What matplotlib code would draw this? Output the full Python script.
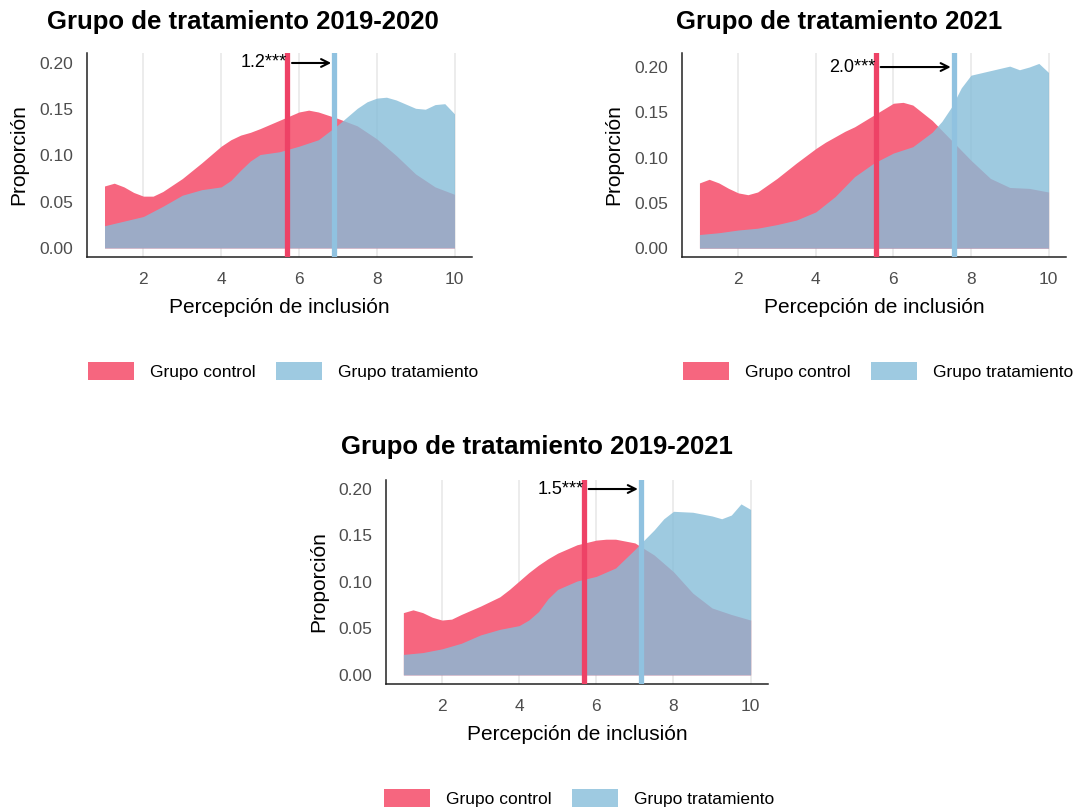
import matplotlib
matplotlib.use("Agg")
import matplotlib.pyplot as plt
from matplotlib.patches import Patch

plt.rcParams["font.family"] = ["Liberation Sans", "DejaVu Sans"]

# Panel titles
titles = ["Grupo de tratamiento 2019-2020",
          "Grupo de tratamiento 2021",
          "Grupo de tratamiento 2019-2021"]

# Density curves (x = perception score, y = proportion)
ctrl_x = [1, 1.25, 1.5, 1.75, 2, 2.25, 2.5, 3, 3.5, 3.75, 4, 4.25, 4.5, 4.75, 5, 5.5, 6, 6.25,
          6.5, 7, 7.5, 8, 8.5, 9, 9.5, 10]

ctrl_y_1920 = [0.067, 0.070, 0.066, 0.060, 0.056, 0.056, 0.061, 0.075, 0.092, 0.101, 0.110,
               0.117, 0.122, 0.125, 0.129, 0.138, 0.147, 0.149, 0.147, 0.140, 0.132, 0.118,
               0.100, 0.080, 0.066, 0.058]
treat_x_1920 = [1, 1.5, 2, 2.5, 3, 3.5, 4, 4.25, 4.5, 4.75, 5, 5.5, 6, 6.5, 7, 7.5, 7.75, 8,
                8.25, 8.5, 9, 9.25, 9.5, 9.75, 10]
treat_y_1920 = [0.024, 0.029, 0.034, 0.045, 0.057, 0.063, 0.066, 0.073, 0.084, 0.094, 0.101,
                0.104, 0.110, 0.117, 0.133, 0.151, 0.158, 0.162, 0.163, 0.160, 0.151, 0.150,
                0.155, 0.156, 0.145]

ctrl_y_21 = [0.072, 0.076, 0.072, 0.066, 0.061, 0.059, 0.062, 0.077, 0.094, 0.102, 0.110,
             0.117, 0.123, 0.129, 0.134, 0.147, 0.160, 0.161, 0.158, 0.141, 0.119, 0.097,
             0.077, 0.067, 0.066, 0.062]
treat_x_21 = [1, 1.5, 2, 2.5, 3, 3.5, 4, 4.5, 5, 5.5, 6, 6.5, 7, 7.25, 7.5, 7.75, 8, 8.5, 9,
              9.25, 9.5, 9.75, 10]
treat_y_21 = [0.015, 0.017, 0.020, 0.022, 0.026, 0.031, 0.040, 0.057, 0.079, 0.094, 0.105,
              0.112, 0.128, 0.140, 0.156, 0.177, 0.191, 0.196, 0.201, 0.197, 0.200, 0.204, 0.194]

ctrl_y_1921 = [0.067, 0.070, 0.067, 0.062, 0.059, 0.060, 0.065, 0.074, 0.084, 0.092, 0.101,
               0.110, 0.118, 0.125, 0.131, 0.140, 0.145, 0.146, 0.146, 0.142, 0.129, 0.111,
               0.088, 0.072, 0.065, 0.059]
treat_x_1921 = [1, 1.5, 2, 2.5, 3, 3.5, 4, 4.25, 4.5, 4.75, 5, 5.5, 6, 6.5, 7, 7.5, 7.75, 8,
                8.5, 9, 9.25, 9.5, 9.75, 10]
treat_y_1921 = [0.022, 0.024, 0.028, 0.034, 0.043, 0.049, 0.053, 0.059, 0.068, 0.082, 0.092,
                0.101, 0.106, 0.115, 0.135, 0.156, 0.168, 0.176, 0.175, 0.171, 0.168, 0.172,
                0.184, 0.178]

# Group means and difference labels
ctrl_means = [5.70, 5.55, 5.68]
treat_means = [6.90, 7.55, 7.15]
diff_labels = ["1.2***", "2.0***", "1.5***"]
y_tops = [0.2108, 0.2155, 0.2097]

RED_FILL = "#F6667F"
BLUE_FILL = "#86BDD9"
RED_LINE = "#EE4266"
BLUE_LINE = "#90C2E0"

W, H = 1082, 807
fig = plt.figure(figsize=(W / 100, H / 100), dpi=100)


def px_axes(left, right, top, bottom):
    return fig.add_axes([left / W, 1 - bottom / H, (right - left) / W, (bottom - top) / H])


def draw_panel(ax, cx, cy, tx, ty, cmean, tmean, label, ytop):
    ax.fill_between(cx, 0, cy, color=RED_FILL, lw=0, zorder=2)
    ax.fill_between(tx, 0, ty, color=BLUE_FILL, alpha=0.8, lw=0, zorder=3)
    ax.axvline(cmean, color=RED_LINE, lw=3.8, zorder=4)
    ax.axvline(tmean, color=BLUE_LINE, lw=3.8, zorder=4)
    ax.annotate("", xy=(tmean, 0.2), xytext=(cmean + 0.05, 0.2),
                arrowprops=dict(arrowstyle="->", lw=1.5, color="black", mutation_scale=14),
                zorder=5)
    ax.text(cmean, 0.2, label, ha="right", va="center", fontsize=13, zorder=5)

    ax.set_xlim(0.55, 10.45)
    ax.set_ylim(-0.0098, ytop)
    ax.set_xticks([2, 4, 6, 8, 10])
    ax.set_yticks([0, 0.05, 0.10, 0.15, 0.20])
    ax.set_yticklabels(["0.00", "0.05", "0.10", "0.15", "0.20"])
    ax.grid(axis="x", color="#EBEBEB", lw=1.3, zorder=0)
    ax.set_axisbelow(True)
    for side in ["top", "right"]:
        ax.spines[side].set_visible(False)
    for side in ["left", "bottom"]:
        ax.spines[side].set_linewidth(1.1)
        ax.spines[side].set_color("#222222")
    ax.tick_params(length=0, labelsize=12.5, labelcolor="#4D4D4D")
    ax.tick_params(axis="x", pad=11)
    ax.tick_params(axis="y", pad=10)
    ax.set_xlabel("Percepción de inclusión", fontsize=15)
    ax.set_ylabel("Proporción", fontsize=15)
    ax.xaxis.set_label_coords(0.5, -0.2)
    ax.yaxis.set_label_coords(-0.152, 0.5)


def add_legend(x_left, y_center):
    handles = [Patch(facecolor=RED_FILL, edgecolor="none", label="Grupo control"),
               Patch(facecolor="#9ECAE1", edgecolor="none", label="Grupo tratamiento")]
    fig.legend(handles=handles, loc="center left", bbox_to_anchor=(x_left / W, 1 - y_center / H),
               ncol=2, frameon=False, fontsize=12.5, handlelength=2.65, handleheight=1.25,
               handletextpad=0.9, columnspacing=1.2, borderpad=0, borderaxespad=0)


ax1 = px_axes(87, 472, 53, 257)
ax2 = px_axes(682, 1066, 53, 257)
ax3 = px_axes(386, 768, 480, 684)

draw_panel(ax1, ctrl_x, ctrl_y_1920, treat_x_1920, treat_y_1920,
           ctrl_means[0], treat_means[0], diff_labels[0], y_tops[0])
draw_panel(ax2, ctrl_x, ctrl_y_21, treat_x_21, treat_y_21,
           ctrl_means[1], treat_means[1], diff_labels[1], y_tops[1])
draw_panel(ax3, ctrl_x, ctrl_y_1921, treat_x_1921, treat_y_1921,
           ctrl_means[2], treat_means[2], diff_labels[2], y_tops[2])

# Titles (centred over each panel incl. axis labels)
fig.text(243 / W, 1 - 29 / H, titles[0], ha="center", va="baseline", fontsize=18.5, fontweight="bold")
fig.text(839 / W, 1 - 29 / H, titles[1], ha="center", va="baseline", fontsize=18.5, fontweight="bold")
fig.text(537 / W, 1 - 454 / H, titles[2], ha="center", va="baseline", fontsize=18.5, fontweight="bold")

add_legend(88, 371)
add_legend(683, 371)
add_legend(384, 798)

fig.savefig("out.png", dpi=100)
